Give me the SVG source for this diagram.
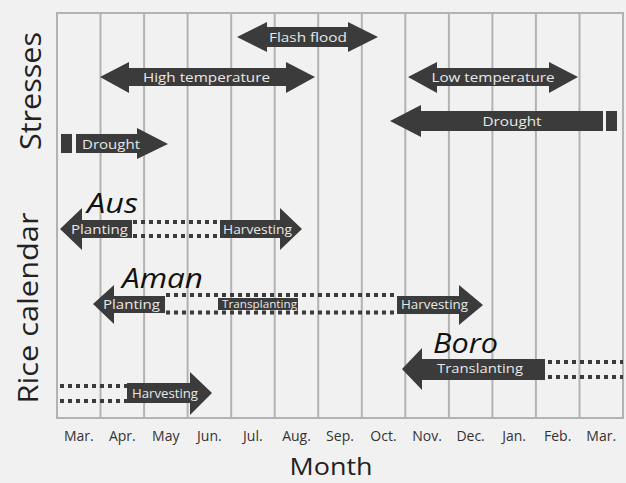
<svg xmlns="http://www.w3.org/2000/svg" width="626" height="483" viewBox="0 0 626 483">
<style>
.grid{stroke:#b3b3b3;stroke-width:2;fill:none}
.ar{fill:#3b3b3b}
.dot{stroke:#3b3b3b;stroke-width:4;stroke-dasharray:4 4;fill:none}
.lb{font-family:"Open Sans","DejaVu Sans",sans-serif;fill:#e8e8e8;text-anchor:middle}
.crop{font-family:"Open Sans","DejaVu Sans",sans-serif;font-style:italic;fill:#111;font-size:28px}
.mon{font-family:"Open Sans","DejaVu Sans",sans-serif;fill:#333;font-size:14px;text-anchor:middle}
.ax{font-family:"Open Sans","DejaVu Sans",sans-serif;fill:#222;text-anchor:middle}
</style>
<rect width="626" height="483" fill="#f1f1f1"/>
<g id="grid">
<rect class="grid" x="57" y="13" width="566" height="405"/>
<path class="grid" d="M100.5 13V418M144.1 13V418M187.6 13V418M231.2 13V418M274.7 13V418M318.2 13V418M361.8 13V418M405.3 13V418M448.9 13V418M492.4 13V418M535.9 13V418M579.5 13V418"/>
</g>
<g id="months">
<text class="mon" x="78.8" y="441">Mar.</text>
<text class="mon" x="122.3" y="441">Apr.</text>
<text class="mon" x="165.8" y="441">May</text>
<text class="mon" x="209.4" y="441">Jun.</text>
<text class="mon" x="252.9" y="441">Jul.</text>
<text class="mon" x="296.5" y="441">Aug.</text>
<text class="mon" x="340" y="441">Sep.</text>
<text class="mon" x="383.5" y="441">Oct.</text>
<text class="mon" x="427" y="441">Nov.</text>
<text class="mon" x="470.6" y="441">Dec.</text>
<text class="mon" x="514.1" y="441">Jan.</text>
<text class="mon" x="557.7" y="441">Feb.</text>
<text class="mon" x="601.2" y="441">Mar.</text>
</g>
<g id="axis-labels">
<text class="ax" x="331" y="475" font-size="24" textLength="83" lengthAdjust="spacingAndGlyphs">Month</text>
<text class="ax" transform="translate(41 91) rotate(-90)" font-size="30" textLength="118" lengthAdjust="spacingAndGlyphs">Stresses</text>
<text class="ax" transform="translate(38 308) rotate(-90)" font-size="28" textLength="191" lengthAdjust="spacingAndGlyphs">Rice calendar</text>
</g>
<g id="flash-flood">
<polygon class="ar" points="237,37 267,22 267,27 348,27 348,22 378,37 348,52 348,47 267,47 267,52"/>
<text class="lb" x="308" y="42" font-size="13" textLength="78" lengthAdjust="spacingAndGlyphs">Flash flood</text>
</g>
<g id="high-temperature">
<polygon class="ar" points="100,77 129,62 129,68 286,68 286,62 315,77 286,93 286,86 129,86 129,93"/>
<text class="lb" x="206.5" y="82" font-size="13" textLength="127" lengthAdjust="spacingAndGlyphs">High temperature</text>
</g>
<g id="low-temperature">
<polygon class="ar" points="408,77 437,62 437,68 549,68 549,62 578,77 549,93 549,86 437,86 437,93"/>
<text class="lb" x="493" y="82" font-size="13" textLength="123" lengthAdjust="spacingAndGlyphs">Low temperature</text>
</g>
<g id="drought-right">
<polygon class="ar" points="390,121 421,105 421,111 603,111 603,131 421,131 421,137"/>
<rect class="ar" x="606" y="111" width="11" height="20"/>
<text class="lb" x="512" y="126" font-size="13" textLength="59" lengthAdjust="spacingAndGlyphs">Drought</text>
</g>
<g id="drought-left">
<rect class="ar" x="61" y="134" width="11" height="19"/>
<polygon class="ar" points="76,134 137,134 137,128 168,144 137,159 137,153 76,153"/>
<text class="lb" x="111" y="149" font-size="13" textLength="58" lengthAdjust="spacingAndGlyphs">Drought</text>
</g>
<g id="aus">
<text class="crop" x="87" y="213" textLength="51" lengthAdjust="spacingAndGlyphs">Aus</text>
<path class="dot" d="M133 222H221M133 236H221"/>
<polygon class="ar" points="60,229 82,208 82,220 132,220 132,238 82,238 82,250"/>
<polygon class="ar" points="220,220 280,220 280,208 302,229 280,250 280,238 220,238"/>
<text class="lb" x="99.5" y="233.5" font-size="12" textLength="57" lengthAdjust="spacingAndGlyphs">Planting</text>
<text class="lb" x="257.5" y="233.5" font-size="12" textLength="69" lengthAdjust="spacingAndGlyphs">Harvesting</text>
</g>
<g id="aman">
<text class="crop" x="122" y="288" textLength="81" lengthAdjust="spacingAndGlyphs">Aman</text>
<path class="dot" d="M166 295H397M166 312.5H397"/>
<polygon class="ar" points="93,304 114,285 114,296 165,296 165,313 114,313 114,324"/>
<rect class="ar" x="218" y="298" width="80" height="12"/>
<polygon class="ar" points="397,296 459,296 459,285 483,305 459,325 459,314 397,314"/>
<text class="lb" x="131.5" y="308.5" font-size="12" textLength="57" lengthAdjust="spacingAndGlyphs">Planting</text>
<text class="lb" x="259.5" y="308" font-size="10" textLength="75" lengthAdjust="spacingAndGlyphs">Transplanting</text>
<text class="lb" x="434.5" y="309" font-size="12" textLength="67" lengthAdjust="spacingAndGlyphs">Harvesting</text>
</g>
<g id="boro">
<text class="crop" x="433" y="353" textLength="65" lengthAdjust="spacingAndGlyphs">Boro</text>
<path class="dot" d="M548 362H623M548 377H623"/>
<polygon class="ar" points="402,369 422,348 422,359 545,359 545,380 422,380 422,390"/>
<text class="lb" x="480" y="373" font-size="13" textLength="86" lengthAdjust="spacingAndGlyphs">Translanting</text>
</g>
<g id="boro-harvest">
<path class="dot" d="M60 386H127M60 401H127"/>
<polygon class="ar" points="127,383 190,383 190,372 212,393 190,415 190,403 127,403"/>
<text class="lb" x="165" y="398" font-size="12" textLength="66" lengthAdjust="spacingAndGlyphs">Harvesting</text>
</g>
</svg>
